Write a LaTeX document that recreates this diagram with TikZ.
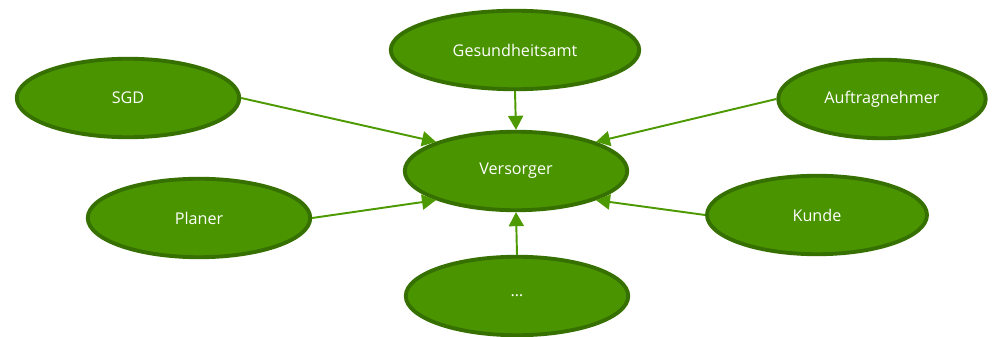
\documentclass[tikz,border=0pt]{standalone}
\usepackage{fontspec}
\setmainfont{Open Sans}
\usetikzlibrary{arrows.meta, shapes.geometric}
\definecolor{ovalfill}{HTML}{4A9400}
\definecolor{ovalline}{HTML}{367000}
\definecolor{linkgreen}{HTML}{4D9A00}

\tikzset{
  oval/.style={ellipse, draw=ovalline, fill=ovalfill, line width=2.2pt,
    text=white, font=\fontsize{9.2}{11}\selectfont,
    minimum width=4.45cm, minimum height=1.57cm, inner sep=0pt},
  link/.style={draw=linkgreen, line width=1.1pt,
    -{Triangle[length=0.28cm, width=0.3cm]}}
}

\begin{document}
\begin{tikzpicture}[x=0.02cm, y=-0.02cm]

\useasboundingbox (0,0) rectangle (992,337);

% Center
\node[oval] (vers) at (516,171) {Versorger};

% Outer ovals
\node[oval, minimum width=4.97cm] (amt) at (515,50) {Gesundheitsamt};
\node[oval] (sgd) at (128,98) {SGD};
\node[oval, minimum width=4.15cm] (auftr) at (882,99) {Auftragnehmer};
\node[oval] (planer) at (199,218) {Planer};
\node[oval, minimum width=4.4cm] (kunde) at (817,215) {Kunde};
\node[oval] (etc) at (517,296) {\dots};

% Links into the center
\draw[link] (amt.south) -- (vers.north);
\draw[link] (sgd.east) -- (vers.160);
\draw[link] (auftr.west) -- (vers.20);
\draw[link] (planer.east) -- (vers.200);
\draw[link] (kunde.west) -- (vers.-20);
\draw[link] (etc.north) -- (vers.south);

\end{tikzpicture}
\end{document}
